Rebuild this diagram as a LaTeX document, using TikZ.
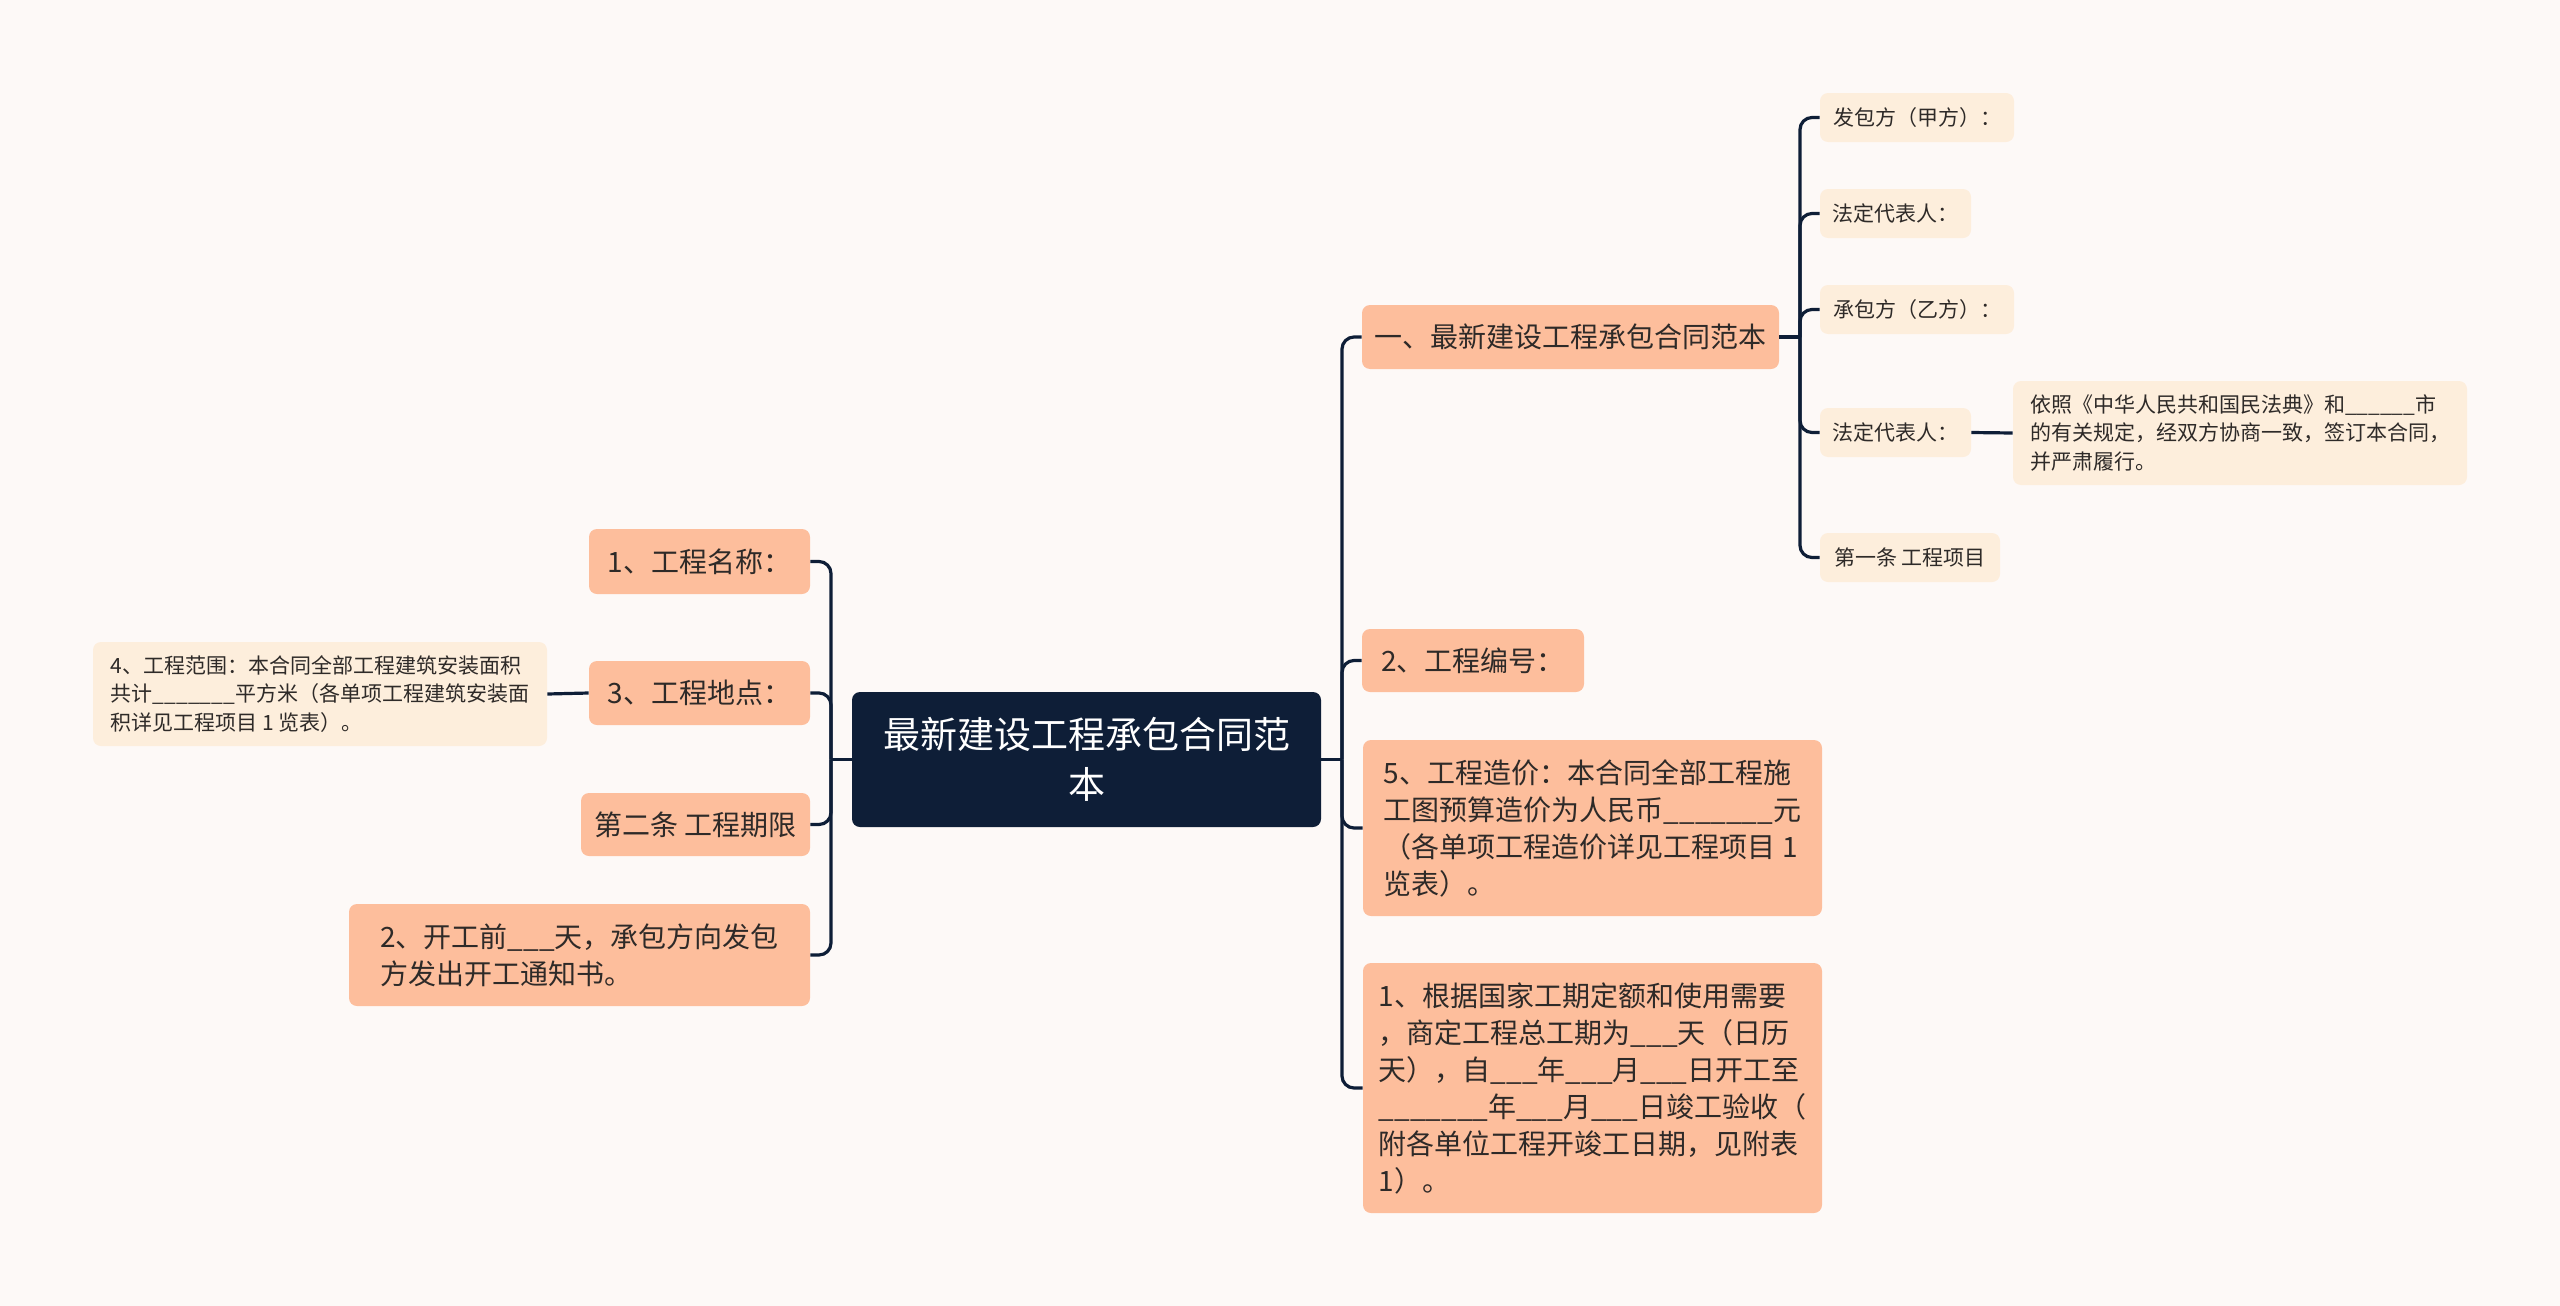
\documentclass[tikz,border=0pt]{standalone}
\usepackage{fontspec}
\setmainfont{Noto Sans CJK SC}
\definecolor{fundo}{HTML}{FDF9F7}
\definecolor{azul}{HTML}{0E1E37}
\definecolor{salmao}{HTML}{FDBE9C}
\definecolor{creme}{HTML}{FDEEDC}
\definecolor{texto}{HTML}{2E2A28}
\tikzset{
  mcentro/.style = {fill=azul, text=white, rounded corners=4pt, inner sep=0pt,
    align=center, font=\fontsize{18.5}{25}\selectfont},
  mramo/.style = {fill=salmao, text=texto, rounded corners=4pt, inner sep=0pt,
    align=left, font=\fontsize{14}{18.5}\selectfont},
  mfolha/.style = {fill=creme, text=texto, rounded corners=4pt, inner sep=0pt,
    align=left, font=\fontsize{10.5}{14.3}\selectfont},
  tam/.style 2 args = {minimum width=#1*0.5pt, minimum height=#2*0.5pt},
  mlig/.style = {draw=azul, line width=1.6pt, rounded corners=6pt}
}

\begin{document}
\begin{tikzpicture}[x=0.5pt, y=-0.5pt]
  \useasboundingbox (0,0) rectangle (2560,1306);
  \fill [fundo] (0,0) rectangle (2560,1306);
  % centro
  \node [mcentro, tam={469}{135}] (centro) at (1086.5,759.5) {最新建设工程承包合同范\\本};
  % lado direito
  \node [mramo, tam={417}{64}] (a1) at (1570.5,337) {一、最新建设工程承包合同范本};
  \node [mramo, tam={222}{63}] (a2) at (1473,660.5) {2、工程编号：};
  \node [mramo, tam={459}{176}] (a3) at (1592.5,828) {5、工程造价：本合同全部工程施\\工图预算造价为人民币\_\_\_\_\_\_\_元\\（各单项工程造价详见工程项目 1\\览表）。};
  \node [mramo, tam={459}{250}] (a4) at (1592.5,1088) {1、根据国家工期定额和使用需要\\，商定工程总工期为\_\_\_天（日历\\天），自\_\_\_年\_\_\_月\_\_\_日开工至\\\_\_\_\_\_\_\_年\_\_\_月\_\_\_日竣工验收（\\附各单位工程开竣工日期，见附表\\1）。};
  \node [mfolha, tam={194}{49}] (s1) at (1917,117.5) {发包方（甲方）：};
  \node [mfolha, tam={151}{49}] (s2) at (1895.5,213.5) {法定代表人：};
  \node [mfolha, tam={194}{49}] (s3) at (1917,309.5) {承包方（乙方）：};
  \node [mfolha, tam={151}{49}] (s4) at (1895.5,432.5) {法定代表人：};
  \node [mfolha, tam={180}{49}] (s5) at (1910,557.5) {第一条 工程项目};
  \node [mfolha, tam={454}{104}] (d) at (2240,433) {依照《中华人民共和国民法典》和\_\_\_\_\_\_市\\的有关规定，经双方协商一致，签订本合同，\\并严肃履行。};
  % lado esquerdo
  \node [mramo, tam={221}{65}] (b1) at (699.5,561.5) {1、工程名称：};
  \node [mramo, tam={221}{64}] (b2) at (699.5,693) {3、工程地点：};
  \node [mramo, tam={229}{63}] (b3) at (695.5,824.5) {第二条 工程期限};
  \node [mramo, tam={461}{102}] (b4) at (579.5,955) {2、开工前\_\_\_天，承包方向发包\\方发出开工通知书。};
  \node [mfolha, tam={454}{104}] (c) at (320,694) {4、工程范围：本合同全部工程建筑安装面积\\共计\_\_\_\_\_\_\_平方米（各单项工程建筑安装面\\积详见工程项目 1 览表）。};
  % ligacoes
  \coordinate (jd) at (1342,759.5);
  \coordinate (je) at (831,759.5);
  \coordinate (js) at (1800,337);
  \draw [mlig] (centro.east) -- (jd);
  \draw [mlig] (centro.west) -- (je);
  \foreach \f in {a1, a2, a3, a4} \draw [mlig] (jd) |- (\f.west);
  \foreach \f in {b1, b2, b3, b4} \draw [mlig] (je) |- (\f.east);
  \draw [mlig] (a1.east) -- (js);
  \foreach \f in {s1, s2, s3, s4, s5} \draw [mlig] (js) |- (\f.west);
  \draw [mlig] (s4.east) -- (d.west);
  \draw [mlig] (b2.west) -- (c.east);
\end{tikzpicture}
\end{document}
